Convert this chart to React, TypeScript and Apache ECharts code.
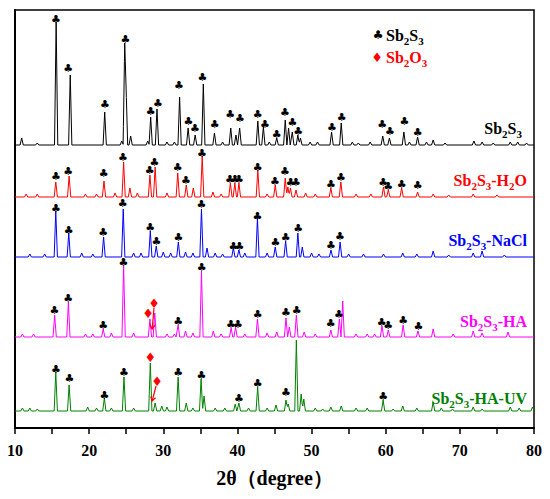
import React, { useEffect, useRef } from "react";
import * as echarts from "echarts";

// x axis: 2θ (degree)
const xMin = 10;
const xMax = 80;
const xTickStep = 5;

// vertical offsets (a.u.) of each pattern
const baseSb2S3 = 283;
const baseH2O = 231;
const baseNaCl = 171;
const baseHA = 91;
const baseHAUV = 17;

// [2θ, intensity above own baseline]
const peaksSb2S3: [number, number][] = [
  [10.9, 7], [13.0, 2], [15.55, 123], [17.45, 70], [22.1, 33], [24.4, 4], [24.8, 102], [24.98, 58],
  [25.6, 9], [27.9, 4], [28.3, 28], [29.15, 36], [30.5, 3], [31.5, 3], [32.2, 48], [33.35, 17],
  [34.3, 10], [35.4, 61], [36.9, 12], [38.0, 3], [39.1, 17], [39.8, 10], [40.3, 17], [42.75, 24],
  [43.5, 18], [44.3, 3], [45.3, 7], [46.45, 25], [46.9, 17], [47.4, 13], [48.15, 10], [48.5, 7],
  [49.8, 3], [50.8, 3], [52.7, 13], [54.0, 22], [55.5, 3], [56.3, 2], [57.9, 3], [59.6, 9],
  [60.5, 7], [62.45, 13], [63.2, 3], [64.3, 8], [65.5, 3], [66.4, 5], [68.0, 2], [71.9, 4],
  [73.0, 3], [74.5, 2], [76.8, 3], [77.8, 3], [79.0, 2],
];
const peaksH2O: [number, number][] = [
  [11.5, 3], [13.0, 3], [15.5, 15], [17.3, 21], [19.5, 3], [21.0, 3], [22.0, 16], [23.5, 4],
  [24.65, 35], [25.5, 9], [26.5, 4], [28.2, 22], [28.9, 30], [30.5, 4], [31.95, 24], [33.1, 12],
  [34.05, 9], [35.25, 41], [36.7, 5], [37.8, 3], [39.05, 14], [39.65, 14], [40.2, 14], [42.75, 27],
  [44.0, 3], [45.1, 12], [46.45, 19], [46.8, 10], [47.15, 9], [47.9, 7], [49.2, 4], [50.5, 3],
  [52.6, 9], [53.95, 15], [56.0, 3], [58.0, 3], [59.7, 10], [60.35, 7], [62.15, 9], [64.3, 5],
  [66.4, 3], [68.5, 2], [71.8, 3], [75.0, 2],
];
const peaksNaCl: [number, number][] = [
  [12.0, 3], [14.0, 3], [15.5, 46], [17.25, 24], [19.0, 4], [20.5, 3], [21.95, 20], [24.6, 48],
  [26.0, 4], [27.0, 4], [28.25, 26], [29.05, 11], [30.0, 5], [31.0, 4], [32.03, 15], [33.0, 5],
  [34.0, 4], [35.15, 48], [35.9, 9], [37.0, 4], [38.0, 3], [39.45, 9], [40.2, 7], [41.0, 4],
  [42.7, 39], [44.0, 4], [45.1, 10], [46.5, 16], [48.15, 24], [48.75, 10], [50.0, 4], [51.0, 3],
  [52.62, 7], [53.85, 15], [55.0, 3], [57.0, 3], [59.7, 3], [62.3, 4], [64.2, 3], [66.4, 6],
  [68.5, 2], [71.8, 4], [73.0, 6], [76.0, 2],
];
const peaksHA: [number, number][] = [
  [11.0, 3], [12.5, 3], [15.35, 22], [17.2, 35], [19.5, 3], [20.5, 3], [21.9, 8], [23.0, 4],
  [24.65, 72], [26.0, 4], [28.2, 18], [28.85, 24], [30.5, 3], [31.5, 3], [32.0, 12], [33.0, 6],
  [34.0, 4], [35.15, 66], [36.75, 6], [37.8, 3], [39.15, 9], [39.75, 10], [41.0, 3], [42.7, 18],
  [44.0, 4], [45.3, 5], [46.55, 19], [47.0, 10], [47.95, 22], [49.0, 5], [50.5, 3], [52.6, 7],
  [53.75, 18], [54.2, 36], [56.0, 3], [57.5, 3], [58.5, 3], [59.5, 11], [60.35, 7], [62.35, 12],
  [64.35, 6], [66.4, 8], [69.1, 3], [71.8, 6], [73.0, 4], [76.5, 5],
];
const peaksHAUV: [number, number][] = [
  [11.0, 3], [12.0, 3], [13.0, 2], [15.5, 39], [17.3, 26], [19.8, 4], [21.0, 3], [22.05, 13],
  [23.0, 3], [24.7, 34], [26.0, 3], [28.25, 48], [28.9, 8], [29.8, 5], [30.5, 4], [32.0, 34],
  [33.1, 8], [34.0, 3], [35.1, 32], [35.5, 15], [37.0, 3], [38.3, 3], [39.7, 7], [40.2, 8],
  [41.5, 3], [42.73, 24], [44.0, 3], [45.2, 6], [46.55, 11], [46.85, 7], [47.95, 71], [48.6, 17],
  [48.95, 12], [50.5, 3], [51.5, 2], [52.6, 4], [54.0, 5], [56.0, 3], [57.5, 3], [59.65, 11],
  [61.0, 2], [62.3, 5], [64.2, 3], [66.4, 9], [67.5, 3], [69.0, 2], [71.8, 4], [73.0, 2],
  [76.8, 4], [78.0, 3], [79.8, 4],
];

// ♣ Sb2S3 reflection markers [2θ, y]
const clubs: [number, number][] = [
  // Sb2S3
  [15.53, 409], [17.19, 360], [22.14, 324], [24.88, 389], [28.3, 317], [29.29, 325], [32.12, 343],
  [33.38, 307], [34.28, 300], [35.27, 351], [36.93, 304], [39.04, 314], [40.35, 310], [42.73, 314],
  [43.72, 304], [45.3, 294], [46.42, 316], [47.41, 306], [48.21, 297], [52.76, 301], [54.06, 311],
  [59.54, 304], [60.58, 297], [62.51, 307], [64.31, 296],
  // Sb2S3-H2O
  [15.53, 252], [17.19, 257], [21.96, 255], [24.57, 271], [28.17, 258], [28.79, 266], [31.94, 261],
  [33.06, 248], [35.22, 275], [39.0, 249], [39.67, 249], [40.21, 249], [42.73, 261], [45.07, 247],
  [46.42, 257], [47.18, 246], [47.9, 246], [52.62, 244], [53.97, 251], [59.67, 246], [60.35, 242],
  [62.15, 244], [64.31, 243],
  // Sb2S3-NaCl
  [15.53, 220], [17.24, 198], [21.91, 196], [24.53, 225], [28.25, 201], [29.06, 187], [32.03, 191],
  [35.13, 224], [39.45, 182], [40.26, 182], [42.69, 212], [45.11, 186], [46.51, 191], [48.21, 200],
  [52.62, 183], [53.84, 192],
  // Sb2S3-HA
  [15.31, 118], [17.19, 130], [21.91, 103], [24.61, 166], [32.0, 107], [35.18, 161], [39.13, 104],
  [40.08, 104], [42.73, 114], [46.55, 116], [47.99, 118], [52.58, 105], [53.7, 114], [59.46, 106],
  [60.35, 103], [62.37, 108], [64.4, 102],
  // Sb2S3-HA-UV
  [15.53, 59], [17.33, 50], [22.05, 33], [24.7, 56], [32.0, 56], [35.13, 53], [40.21, 30],
  [42.73, 45], [46.55, 36], [59.67, 32],
];

// ♦ Sb2O3 reflection markers [2θ, y]
const diamonds: [number, number][] = [
  [27.94, 115], [28.75, 125], [28.25, 71], [29.15, 47],
];

// pointer lines from a diamond to its peak [x1, y1, x2, y2]
const pointers: [number, number, number, number][] = [
  [28.75, 120, 28.5, 99],
  [29.02, 42, 28.5, 27],
];

function profile(peaks: [number, number][], base: number): number[][] {
  const w = 0.22;
  const xs = new Set<number>([xMin, xMax]);
  peaks.forEach(([p]) => {
    xs.add(Math.round((p - w) * 1000) / 1000);
    xs.add(p);
    xs.add(Math.round((p + w) * 1000) / 1000);
  });
  const sorted = Array.from(xs).sort((a, b) => a - b);
  return sorted.map((x) => {
    let y = 0;
    peaks.forEach(([p, h]) => {
      const d = Math.abs(x - p);
      if (d < w) y = Math.max(y, h * (1 - d / w));
    });
    return [x, base + y];
  });
}

const serif = "'Liberation Serif', 'Times New Roman', serif";

function subLabel(parts: [string, boolean][]): string {
  return parts.map(([t, sub]) => `{${sub ? "b" : "a"}|${t}}`).join("");
}

function richFor(color: string) {
  return {
    a: { fontSize: 16, fontWeight: "bold", fontFamily: serif, fill: color, lineHeight: 22 },
    b: { fontSize: 11, fontWeight: "bold", fontFamily: serif, fill: color, lineHeight: 11, verticalAlign: "bottom" },
  };
}

const labelSb2S3 = subLabel([["Sb", false], ["2", true], ["S", false], ["3", true]]);
const labelSb2O3 = subLabel([["Sb", false], ["2", true], ["O", false], ["3", true]]);

function traceLabel(text: string, color: string, x: number, y: number) {
  return {
    type: "text",
    x,
    y,
    style: { text, rich: richFor(color), fill: color, align: "right", verticalAlign: "middle" },
  };
}

export default function App() {
  const ref = useRef<HTMLDivElement>(null);
  useEffect(() => {
    if (!ref.current) return;
    const chart = echarts.init(ref.current, undefined, { renderer: "svg" });
    const line = (name: string, data: number[][], color: string) => ({
      name,
      type: "line",
      data,
      showSymbol: false,
      symbol: "none",
      lineStyle: { color, width: 1 },
      itemStyle: { color },
      z: 2,
    });
    chart.setOption({
      animation: false,
      backgroundColor: "#fff",
      grid: {
        left: 15,
        right: 16,
        top: 10,
        bottom: 71,
        show: true,
        borderColor: "#000",
        borderWidth: 1.5,
        outerBoundsMode: "none",
      },
      xAxis: {
        type: "value",
        min: xMin,
        max: xMax,
        interval: xTickStep,
        name: "2θ（degree）",
        nameLocation: "middle",
        nameGap: 40,
        nameTextStyle: { fontFamily: serif, fontWeight: "bold", fontSize: 20, color: "#000" },
        axisLine: { lineStyle: { color: "#000", width: 2 } },
        axisTick: { length: 6, lineStyle: { color: "#000", width: 1.5 } },
        axisLabel: {
          margin: 14,
          fontFamily: serif,
          fontWeight: "bold",
          fontSize: 16,
          color: "#000",
          formatter: (v: number) => (v % 10 === 0 ? String(v) : ""),
        },
        splitLine: { show: false },
      },
      yAxis: {
        type: "value",
        min: 0,
        max: 418,
        show: true,
        axisLine: { show: true, lineStyle: { color: "#000", width: 2 } },
        axisTick: { show: false },
        axisLabel: { show: false },
        splitLine: { show: false },
      },
      series: [
        line("Sb2S3", profile(peaksSb2S3, baseSb2S3), "#000000"),
        line("Sb2S3-H2O", profile(peaksH2O, baseH2O), "#ff0000"),
        line("Sb2S3-NaCl", profile(peaksNaCl, baseNaCl), "#0000ff"),
        line("Sb2S3-HA", profile(peaksHA, baseHA), "#ff00ff"),
        line("Sb2S3-HA-UV", profile(peaksHAUV, baseHAUV), "#008000"),
        {
          type: "custom",
          data: pointers,
          encode: { x: [0, 2], y: [1, 3] },
          z: 4,
          renderItem: (_p: any, api: any) => {
            const a = api.coord([api.value(0), api.value(1)]);
            const b = api.coord([api.value(2), api.value(3)]);
            const dx = b[0] - a[0];
            const dy = b[1] - a[1];
            const len = Math.sqrt(dx * dx + dy * dy) || 1;
            const ux = dx / len, uy = dy / len;
            const hx = b[0] - ux * 4, hy = b[1] - uy * 4;
            return {
              type: "group",
              children: [
                { type: "line", shape: { x1: a[0], y1: a[1], x2: b[0], y2: b[1] }, style: { stroke: "#ff0000", lineWidth: 1.2 } },
                {
                  type: "polyline",
                  shape: { points: [[hx - uy * 2.5, hy + ux * 2.5], [b[0], b[1]], [hx + uy * 2.5, hy - ux * 2.5]] },
                  style: { stroke: "#ff0000", lineWidth: 1.2, fill: "none" },
                },
              ],
            };
          },
        },
        {
          type: "custom",
          data: clubs,
          encode: { x: 0, y: 1 },
          z: 5,
          renderItem: (_p: any, api: any) => {
            const pt = api.coord([api.value(0), api.value(1)]);
            return {
              type: "text",
              x: pt[0],
              y: pt[1],
              style: { text: "♣", fill: "#000", font: "11px 'DejaVu Sans'", align: "center", verticalAlign: "middle" },
            };
          },
        },
        {
          type: "custom",
          data: diamonds,
          encode: { x: 0, y: 1 },
          z: 5,
          renderItem: (_p: any, api: any) => {
            const pt = api.coord([api.value(0), api.value(1)]);
            return {
              type: "text",
              x: pt[0],
              y: pt[1],
              style: { text: "♦", fill: "#ff0000", font: "13px 'DejaVu Sans'", align: "center", verticalAlign: "middle" },
            };
          },
        },
      ],
      graphic: [
        { type: "text", x: 378, y: 35, style: { text: "♣", fill: "#000", font: "12px 'DejaVu Sans'", align: "center", verticalAlign: "middle" } },
        { type: "text", x: 386, y: 35, style: { text: labelSb2S3, rich: richFor("#000"), fill: "#000", align: "left", verticalAlign: "middle" } },
        { type: "text", x: 377, y: 57, style: { text: "♦", fill: "#ff0000", font: "13px 'DejaVu Sans'", align: "center", verticalAlign: "middle" } },
        { type: "text", x: 386, y: 57, style: { text: labelSb2O3, rich: richFor("#ff0000"), fill: "#ff0000", align: "left", verticalAlign: "middle" } },
        traceLabel(labelSb2S3, "#000000", 522, 128),
        traceLabel(subLabel([["Sb", false], ["2", true], ["S", false], ["3", true], ["-H", false], ["2", true], ["O", false]]), "#ff0000", 527, 180),
        traceLabel(subLabel([["Sb", false], ["2", true], ["S", false], ["3", true], ["-NaCl", false]]), "#0000ff", 527, 240),
        traceLabel(subLabel([["Sb", false], ["2", true], ["S", false], ["3", true], ["-HA", false]]), "#ff00ff", 527, 321),
        traceLabel(subLabel([["Sb", false], ["2", true], ["S", false], ["3", true], ["-HA-UV", false]]), "#008000", 527, 398),
      ],
    });
    return () => chart.dispose();
  }, []);
  return (
    <div
      ref={ref}
      style={{ position: "absolute", left: 0, top: 0, width: 550, height: 499, background: "#fff" }}
    />
  );
}
